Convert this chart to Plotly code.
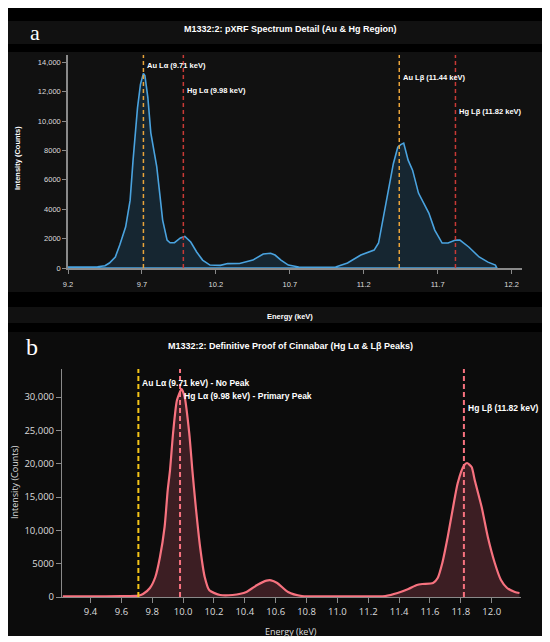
import plotly.graph_objects as go

W, H = 550, 642
OFF = 8  # the page body puts the figure 8px in from the corner

# panel a: pXRF spectrum detail (Au & Hg region)
a_energy = [9.20, 9.30, 9.40, 9.45, 9.48, 9.52, 9.55, 9.59, 9.62, 9.64, 9.67, 9.69,
            9.71, 9.72, 9.74, 9.76, 9.79, 9.80, 9.82, 9.84, 9.87, 9.89, 9.92, 9.96,
            9.99, 10.03, 10.07, 10.11, 10.16, 10.23, 10.28, 10.36, 10.45, 10.52, 10.57,
            10.60, 10.64, 10.69, 10.76, 10.90, 11.01, 11.09, 11.18, 11.27, 11.30, 11.33,
            11.37, 11.40, 11.43, 11.45, 11.47, 11.50, 11.53, 11.57, 11.64, 11.68, 11.73,
            11.77, 11.82, 11.85, 11.91, 11.98, 12.04, 12.09, 12.10]
a_counts = [60, 50, 80, 150, 340, 750, 1560, 2800, 4600, 7340, 10900, 12500,
            13250, 13100, 11600, 9200, 7600, 6900, 5100, 3260, 1900, 1720, 1730, 2050,
            2150, 1770, 1090, 540, 200, 180, 300, 310, 540, 950, 1000,
            880, 540, 200, 70, 40, 70, 340, 880, 1220, 1700, 3260,
            5300, 7100, 8220, 8400, 8500, 7340, 6660, 5100, 3740, 2580, 1700,
            1700, 1900, 1900, 1430, 750, 400, 200, 0]
a_lines = [9.71, 9.98, 11.44, 11.82]
a_line_labels = ["Au Lα (9.71 keV)", "Hg Lα (9.98 keV)", "Au Lβ (11.44 keV)", "Hg Lβ (11.82 keV)"]
a_yticks = [0, 2000, 4000, 6000, 8000, 10000, 12000, 14000]
a_yticktext = ["0", "2000", "4000", "6000", "8000", "10,000", "12,000", "14,000"]
a_xticks = [9.2, 9.7, 10.2, 10.7, 11.2, 11.7, 12.2]

# panel b: Hg La and Lb peaks
b_energy = [9.22, 9.40, 9.60, 9.71, 9.74, 9.785, 9.82, 9.85, 9.88, 9.90, 9.915, 9.935,
            9.96, 9.99, 10.01, 10.04, 10.06, 10.08, 10.11, 10.14, 10.17, 10.24, 10.32,
            10.41, 10.48, 10.54, 10.57, 10.61, 10.68, 10.77, 11.00, 11.31, 11.39, 11.46,
            11.515, 11.55, 11.62, 11.65, 11.68, 11.715, 11.75, 11.78, 11.82, 11.84, 11.87,
            11.89, 11.935, 11.975, 12.02, 12.06, 12.10, 12.15, 12.18]
b_counts = [100, 80, 120, 200, 450, 1350, 3000, 6000, 10500, 16000, 19000, 24600,
            29500, 31200, 30000, 24500, 19000, 14000, 7500, 3000, 1000, 300, 300,
            750, 1800, 2450, 2500, 2100, 750, 150, 100, 150, 600, 1200,
            1800, 1950, 2100, 2850, 5100, 9000, 13500, 17100, 19700, 20100, 19500,
            17550, 13500, 9000, 5100, 2550, 1350, 750, 600]
b_lines = [9.71, 9.98, 11.82]
b_line_labels = ["Au Lα (9.71 keV) - No Peak", "Hg Lα (9.98 keV) - Primary Peak", "Hg Lβ (11.82 keV)"]
b_yticks = [0, 5000, 10000, 15000, 20000, 25000, 30000]
b_yticktext = ["0", "5000", "10,000", "15,000", "20,000", "25,000", "30,000"]
b_xticks = [9.4, 9.6, 9.8, 10.0, 10.2, 10.4, 10.6, 10.8, 11.0, 11.2, 11.4, 11.6, 11.8, 12.0]


def px(x):
    return (x - OFF) / W


def py(y):
    return 1 - (y - OFF) / H


fig = go.Figure()

# panel a: closed area including the baseline
fig.add_trace(go.Scatter(
    x=a_energy + [a_energy[-1], a_energy[0]],
    y=a_counts + [0, 0],
    mode="lines", fill="toself",
    fillcolor="rgba(52,152,219,0.16)",
    line=dict(color="#4aa3df", width=1.6),
    xaxis="x", yaxis="y", hoverinfo="skip", showlegend=False,
))

fig.add_trace(go.Scatter(
    x=b_energy, y=b_counts,
    mode="lines", fill="tozeroy",
    fillcolor="rgba(255,107,129,0.2)",
    line=dict(color="#f7727f", width=2.2, shape="spline", smoothing=0.6),
    xaxis="x2", yaxis="y2", hoverinfo="skip", showlegend=False,
))

shapes = []
# background bands of the two chart screenshots
shapes.append(dict(type="rect", xref="paper", yref="paper", x0=px(6), x1=px(545),
                   y0=py(636), y1=py(5), fillcolor="#000000", line_width=0, layer="below"))
for top, bot, col in [(21, 44, "#111111"), (52, 292, "#111111"),
                      (307, 323, "#111111"), (332, 636, "#0c0c0c")]:
    shapes.append(dict(type="rect", xref="paper", yref="paper", x0=px(6), x1=px(545),
                       y0=py(bot), y1=py(top), fillcolor=col, line_width=0, layer="below"))

a_colors = ["#e8a33a", "#c83a36", "#e8a33a", "#c83a36"]
for e, c in zip(a_lines, a_colors):
    shapes.append(dict(type="line", xref="x", yref="y domain", x0=e, x1=e, y0=0, y1=1,
                       line=dict(color=c, width=1.5, dash="4px,3px")))
b_colors = ["#f5c518", "#f7727f", "#f7727f"]
for e, c in zip(b_lines, b_colors):
    shapes.append(dict(type="line", xref="x2", yref="y2 domain", x0=e, x1=e, y0=0, y1=1,
                       line=dict(color=c, width=2, dash="5px,3px")))

ann = []
a_label_y = [13800, 12100, 13000, 10650]
for e, t, yy in zip(a_lines, a_line_labels, a_label_y):
    ann.append(dict(x=e, y=yy, xref="x", yref="y", text="<b>%s</b>" % t, showarrow=False,
                    xanchor="left", yanchor="middle", xshift=2,
                    font=dict(family="Liberation Sans", size=7.5, color="#ffffff")))
b_label_y = [32100, 30150, 28350]
for e, t, yy in zip(b_lines, b_line_labels, b_label_y):
    ann.append(dict(x=e, y=yy, xref="x2", yref="y2", text="<b>%s</b>" % t, showarrow=False,
                    xanchor="left", yanchor="middle", xshift=2,
                    font=dict(family="Liberation Sans", size=8.5, color="#ffffff")))


def label(x, y, text, family, size, color, angle=0):
    return dict(x=px(x), y=py(y), xref="paper", yref="paper", showarrow=False,
                xanchor="center", yanchor="middle", text=text, textangle=angle,
                font=dict(family=family, size=size, color=color))


ann += [
    label(290, 29, "<b>M1332:2: pXRF Spectrum Detail (Au & Hg Region)</b>",
          "Liberation Sans", 9, "#ffffff"),
    label(290, 346, "<b>M1332:2: Definitive Proof of Cinnabar (Hg Lα & Lβ Peaks)</b>",
          "Liberation Sans", 9, "#ffffff"),
    label(35, 33, "a", "Liberation Serif", 22, "#ffffff"),
    label(32, 347, "b", "Liberation Serif", 24, "#ffffff"),
    label(290, 316, "<b>Energy (keV)</b>", "Liberation Sans", 7.5, "#ffffff"),
    label(291, 631, "Energy (keV)", "Open Sans", 9, "#dddddd"),
    label(17, 158, "<b>Intensity (Counts)</b>", "Liberation Sans", 7.5, "#ffffff", -90),
    label(14, 482, "Intensity (Counts)", "Open Sans", 9, "#dddddd", -90),
]

axis_a = dict(showgrid=False, zeroline=False, showline=True, linecolor="#8a8a8a", linewidth=1.5,
              ticks="outside", ticklen=4, tickcolor="#8a8a8a", automargin=False,
              tickfont=dict(family="Liberation Sans", size=7.5, color="#dddddd"))
axis_b = dict(showgrid=False, zeroline=False, showline=True, linecolor="#8a8a8a", linewidth=1.2,
              ticks="outside", ticklen=5, tickcolor="#8a8a8a", automargin=False,
              tickfont=dict(family="Open Sans", size=9.5, color="#dddddd"))

fig.update_layout(
    width=W, height=H,
    margin=dict(l=0, r=0, t=0, b=0, pad=0),
    paper_bgcolor="#ffffff", plot_bgcolor="rgba(0,0,0,0)",
    showlegend=False,
    xaxis=dict(axis_a, domain=[px(68), px(522)], range=[9.2, 12.27], anchor="y",
               tickvals=a_xticks, ticktext=[str(v) for v in a_xticks], ticklabelstandoff=4),
    yaxis=dict(axis_a, domain=[py(268), py(55)], range=[0, 14500], anchor="x",
               tickvals=a_yticks, ticktext=a_yticktext),
    xaxis2=dict(axis_b, domain=[px(62), px(521)], range=[9.215, 12.19], anchor="y2",
                tickvals=b_xticks, ticktext=["%.1f" % v for v in b_xticks]),
    yaxis2=dict(axis_b, domain=[py(597), py(369)], range=[0, 34200], anchor="x2",
                tickvals=b_yticks, ticktext=b_yticktext),
    shapes=shapes,
    annotations=ann,
)

fig.write_html("out.html")
